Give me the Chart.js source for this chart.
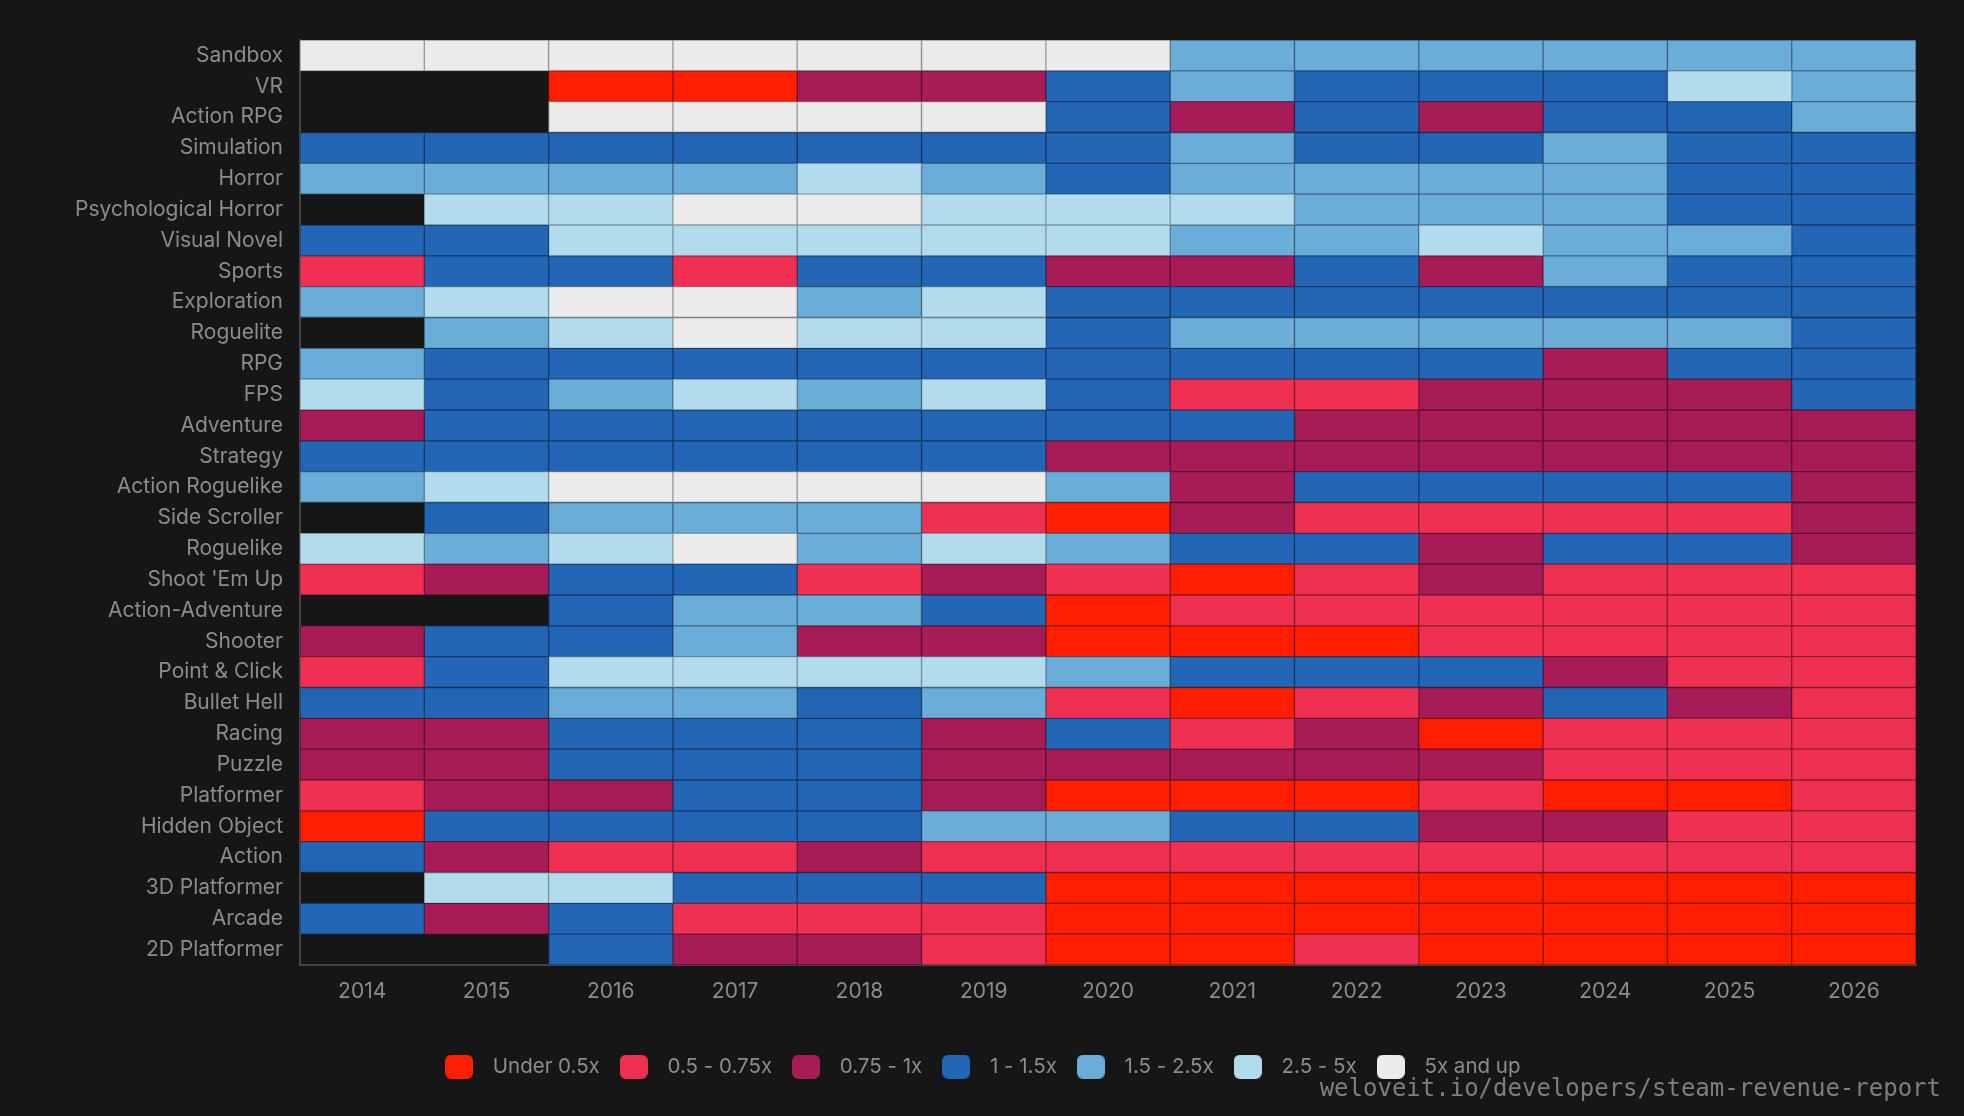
<!DOCTYPE html>
<html>
<head>
<meta charset="utf-8">
<script src="https://cdn.jsdelivr.net/npm/chart.js@4.4.1/dist/chart.umd.min.js"></script>
<style>
  html, body { margin: 0; padding: 0; background: #161616; }
  #wrap { position: relative; width: 1964px; height: 1116px; }
  #credit { position: absolute; right: 23px; top: 1076px; font: 24px/24px "DejaVu Sans Mono", monospace; color: #7e7e7e; white-space: nowrap; }
</style>
</head>
<body>
<div id="wrap">
  <canvas id="revenueHeatmap" width="1964" height="1116"></canvas>
  <div id="credit">weloveit.io/developers/steam-revenue-report</div>
</div>
<script>
const years = ["2014", "2015", "2016", "2017", "2018", "2019", "2020", "2021", "2022", "2023", "2024", "2025", "2026"];

const genres = [
  "Sandbox", "VR", "Action RPG", "Simulation", "Horror", "Psychological Horror", "Visual Novel",
  "Sports", "Exploration", "Roguelite", "RPG", "FPS", "Adventure", "Strategy", "Action Roguelike",
  "Side Scroller", "Roguelike", "Shoot 'Em Up", "Action-Adventure", "Shooter", "Point & Click",
  "Bullet Hell", "Racing", "Puzzle", "Platformer", "Hidden Object", "Action", "3D Platformer",
  "Arcade", "2D Platformer",
];

const levelLabels = ["Under 0.5x", "0.5 - 0.75x", "0.75 - 1x", "1 - 1.5x", "1.5 - 2.5x", "2.5 - 5x", "5x and up"];

// level index into levelLabels per genre (rows) and year (columns), null = no data
const levelRows = [
  [6, 6, 6, 6, 6, 6, 6, 4, 4, 4, 4, 4, 4],
  [null, null, 0, 0, 2, 2, 3, 4, 3, 3, 3, 5, 4],
  [null, null, 6, 6, 6, 6, 3, 2, 3, 2, 3, 3, 4],
  [3, 3, 3, 3, 3, 3, 3, 4, 3, 3, 4, 3, 3],
  [4, 4, 4, 4, 5, 4, 3, 4, 4, 4, 4, 3, 3],
  [null, 5, 5, 6, 6, 5, 5, 5, 4, 4, 4, 3, 3],
  [3, 3, 5, 5, 5, 5, 5, 4, 4, 5, 4, 4, 3],
  [1, 3, 3, 1, 3, 3, 2, 2, 3, 2, 4, 3, 3],
  [4, 5, 6, 6, 4, 5, 3, 3, 3, 3, 3, 3, 3],
  [null, 4, 5, 6, 5, 5, 3, 4, 4, 4, 4, 4, 3],
  [4, 3, 3, 3, 3, 3, 3, 3, 3, 3, 2, 3, 3],
  [5, 3, 4, 5, 4, 5, 3, 1, 1, 2, 2, 2, 3],
  [2, 3, 3, 3, 3, 3, 3, 3, 2, 2, 2, 2, 2],
  [3, 3, 3, 3, 3, 3, 2, 2, 2, 2, 2, 2, 2],
  [4, 5, 6, 6, 6, 6, 4, 2, 3, 3, 3, 3, 2],
  [null, 3, 4, 4, 4, 1, 0, 2, 1, 1, 1, 1, 2],
  [5, 4, 5, 6, 4, 5, 4, 3, 3, 2, 3, 3, 2],
  [1, 2, 3, 3, 1, 2, 1, 0, 1, 2, 1, 1, 1],
  [null, null, 3, 4, 4, 3, 0, 1, 1, 1, 1, 1, 1],
  [2, 3, 3, 4, 2, 2, 0, 0, 0, 1, 1, 1, 1],
  [1, 3, 5, 5, 5, 5, 4, 3, 3, 3, 2, 1, 1],
  [3, 3, 4, 4, 3, 4, 1, 0, 1, 2, 3, 2, 1],
  [2, 2, 3, 3, 3, 2, 3, 1, 2, 0, 1, 1, 1],
  [2, 2, 3, 3, 3, 2, 2, 2, 2, 2, 1, 1, 1],
  [1, 2, 2, 3, 3, 2, 0, 0, 0, 1, 0, 0, 1],
  [0, 3, 3, 3, 3, 4, 4, 3, 3, 2, 2, 1, 1],
  [3, 2, 1, 1, 2, 1, 1, 1, 1, 1, 1, 1, 1],
  [null, 5, 5, 3, 3, 3, 0, 0, 0, 0, 0, 0, 0],
  [3, 2, 3, 1, 1, 1, 0, 0, 0, 0, 0, 0, 0],
  [null, null, 3, 2, 2, 1, 0, 0, 1, 0, 0, 0, 0],
];

const levelColors = ["#ff1e00", "#f03052", "#a71c57", "#2366b5", "#6aadd8", "#b3dbee", "#ebebeb"];
const levelBorders = ["#8c1400", "#8e1d33", "#5c1032", "#143b6b", "#3f6886", "#7d98a6", "#9a9a9a"];

const TEXT_GREY = "#8c8c8c";
const FONT = "Inter, 'Noto Sans', sans-serif";

// small rounded swatch used as the legend marker
function swatch(color) {
  const c = document.createElement("canvas");
  c.width = 28;
  c.height = 24;
  const ctx = c.getContext("2d");
  ctx.fillStyle = color;
  ctx.beginPath();
  ctx.roundRect(0, 0, 28, 24, 6);
  ctx.fill();
  return c;
}
const swatches = levelColors.map(swatch);

const datasets = years.map((year, j) => ({
  label: year,
  data: genres.map((g, i) => (levelRows[i][j] === null ? null : [j - 0.5, j + 0.5])),
  backgroundColor: genres.map((g, i) => (levelRows[i][j] === null ? "transparent" : levelColors[levelRows[i][j]])),
  borderColor: genres.map((g, i) => (levelRows[i][j] === null ? "transparent" : levelBorders[levelRows[i][j]])),
  borderWidth: 1,
  borderSkipped: false,
  grouped: false,
  barPercentage: 1,
  categoryPercentage: 1,
}));

new Chart(document.getElementById("revenueHeatmap"), {
  type: "bar",
  data: { labels: genres, datasets },
  options: {
    indexAxis: "y",
    responsive: false,
    animation: false,
    layout: { padding: { top: 40, right: 48, bottom: 29, left: 40 } },
    plugins: {
      tooltip: { enabled: false },
      legend: {
        position: "bottom",
        onClick: null,
        labels: {
          color: TEXT_GREY,
          font: { family: FONT, size: 20.5 },
          usePointStyle: true,
          pointStyleWidth: 47,
          padding: 10.5,
          generateLabels: () => levelLabels.map((text, k) => ({
            text,
            fillStyle: levelColors[k],
            strokeStyle: levelColors[k],
            lineWidth: 0,
            pointStyle: swatches[k],
            fontColor: TEXT_GREY,
            hidden: false,
          })),
        },
      },
    },
    scales: {
      x: {
        type: "linear",
        min: -0.5,
        max: years.length - 0.5,
        grid: { display: false, drawTicks: false },
        border: { display: true, color: "#444444", width: 2 },
        afterBuildTicks: (axis) => { axis.ticks = years.map((y, i) => ({ value: i })); },
        afterFit: (axis) => { axis.height = 81; },
        ticks: {
          color: TEXT_GREY,
          font: { family: FONT, size: 21 },
          padding: 14,
          maxRotation: 0,
          autoSkip: false,
          callback: (v) => years[v],
        },
      },
      y: {
        type: "category",
        grid: { display: false, drawTicks: false },
        border: { display: true, color: "#444444", width: 2 },
        afterFit: (axis) => { axis.width = 260; },
        ticks: {
          color: TEXT_GREY,
          font: { family: FONT, size: 21 },
          padding: 17,
          autoSkip: false,
        },
      },
    },
  },
});
</script>
</body>
</html>
